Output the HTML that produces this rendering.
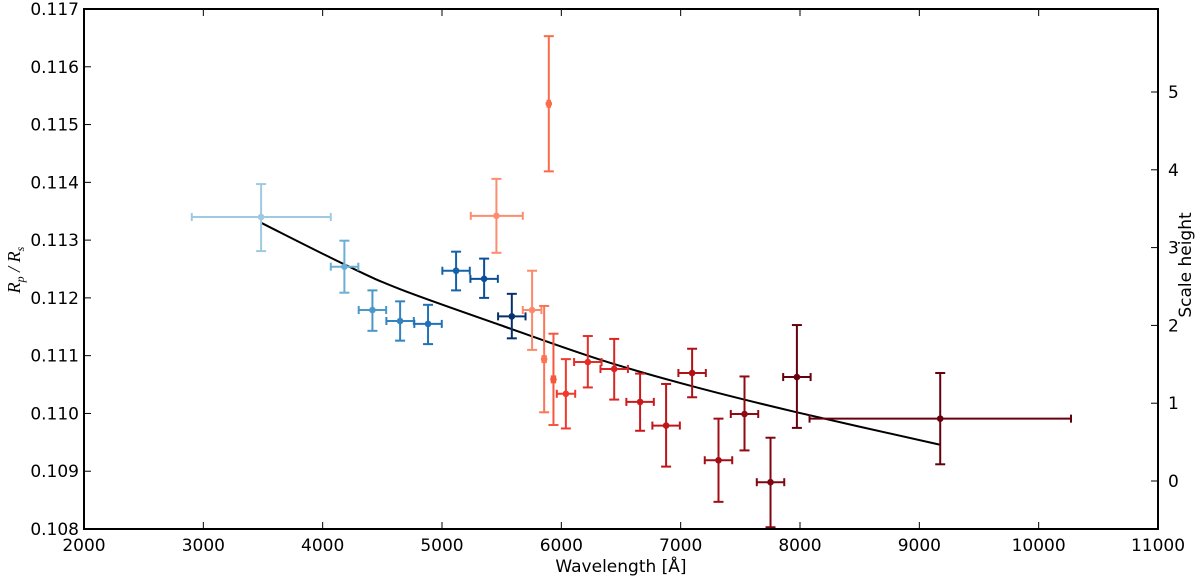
<!DOCTYPE html>
<html><head><meta charset="utf-8"><style>
html,body{margin:0;padding:0;background:#fff;}
svg{display:block;font-family:"DejaVu Sans","Liberation Sans",sans-serif;}
</style></head><body>
<svg id="chart" width="1200" height="580" viewBox="0 0 1200 580" xmlns="http://www.w3.org/2000/svg">
<g id="marks"></g>
<g id="axes"></g>
</svg>
<script>
const wavelengths = [3484,4182,4417,4649,4883,5118,5353,5585,5456,5895,5755,5856,5934,6038,6222,6443,6660,6878,7096,7317,7535,7753,7974,9175];
const radiusRatio = [0.11340,0.11254,0.11179,0.11160,0.11155,0.11247,0.11233,0.11168,0.11342,0.11536,0.11179,0.11094,0.11059,0.11034,0.11089,0.11077,0.11020,0.10979,0.11070,0.10919,0.10999,0.10881,0.11063,0.10991];
const errUp = [0.11397,0.11299,0.11213,0.11194,0.11188,0.11280,0.11268,0.11207,0.11406,0.11653,0.11247,0.11186,0.11138,0.11094,0.11134,0.11129,0.11069,0.11051,0.11112,0.10991,0.11064,0.10958,0.11153,0.11070];
const errDown = [0.11281,0.11209,0.11143,0.11126,0.11120,0.11213,0.11200,0.11130,0.11278,0.11419,0.11110,0.11002,0.10980,0.10974,0.11045,0.11024,0.10970,0.10908,0.11028,0.10847,0.10936,0.10803,0.10975,0.10912];
const binLow = [2903,4068,4302,4534,4768,5003,5238,5470,5241,5885,5677,5842,5920,5962,6107,6328,6545,6763,6981,7202,7420,7638,7859,8080];
const binHigh = [4068,4299,4532,4764,4998,5233,5468,5700,5677,5905,5833,5870,5948,6116,6337,6558,6775,6993,7211,7432,7650,7868,8089,10271];
const colors = ["#9ecae1","#6baed6","#4a98c9","#3383be","#2171b5","#1562a9","#0b4f99","#08306b","#fc8d6e","#fb6a4a","#fc8a6a","#fb7555","#f6583e","#ef3b2c","#e32f27","#d92523","#cb181d","#bd151a","#af1117","#a10e15","#8f0a12","#7f0710","#67000d","#67000d"];
const modelWave = [3484,4182,4649,5487,6325,7081,7974,9170];
const modelRatio = [0.11330,0.11258,0.11215,0.11153,0.11093,0.11048,0.11002,0.10946];
const xTicks = [2000,3000,4000,5000,6000,7000,8000,9000,10000,11000];
const yTicks = [0.108,0.109,0.110,0.111,0.112,0.113,0.114,0.115,0.116,0.117];
const yTickLabels = ["0.108","0.109","0.110","0.111","0.112","0.113","0.114","0.115","0.116","0.117"];
const scaleTicks = [0,1,2,3,4,5];

const L=84,R=1158,T=9,B=529;
const X0=2000,X1=11000,Y0=0.108,Y1=0.117;
function sx(v){return L+(v-X0)/(X1-X0)*(R-L);}
function sy(v){return B-(v-Y0)/(Y1-Y0)*(B-T);}
const SH0=481,SHU=77.8;
function sh(v){return SH0-v*SHU;}
const NS="http://www.w3.org/2000/svg";
function mk(tag,attrs,parent){const e=document.createElementNS(NS,tag);for(const k in attrs)e.setAttribute(k,attrs[k]);parent.appendChild(e);return e;}
const marks=document.getElementById('marks');
const axes=document.getElementById('axes');

// model curve (smooth Catmull-Rom through model points)
const pts=modelWave.map((w,i)=>[sx(w),sy(modelRatio[i])]);
let d='M'+pts[0][0].toFixed(1)+' '+pts[0][1].toFixed(1);
for(let i=0;i<pts.length-1;i++){
  const p0=pts[Math.max(0,i-1)],p1=pts[i],p2=pts[i+1],p3=pts[Math.min(pts.length-1,i+2)];
  const c1=[p1[0]+(p2[0]-p0[0])/6,p1[1]+(p2[1]-p0[1])/6];
  const c2=[p2[0]-(p3[0]-p1[0])/6,p2[1]-(p3[1]-p1[1])/6];
  d+=' C'+c1[0].toFixed(1)+' '+c1[1].toFixed(1)+' '+c2[0].toFixed(1)+' '+c2[1].toFixed(1)+' '+p2[0].toFixed(1)+' '+p2[1].toFixed(1);
}
const curve=mk('path',{d:d,fill:'none',stroke:'#000','stroke-width':2},marks);



// data points
wavelengths.forEach((w,i)=>{
  const g=mk('g',{stroke:colors[i],'stroke-width':2,fill:colors[i]},marks);
  
  
  const cx=sx(w),cy=sy(radiusRatio[i]);
  const yt=sy(errUp[i]),yb=sy(errDown[i]);
  const xl=sx(binLow[i]),xr=sx(binHigh[i]);
  mk('line',{x1:cx,y1:yt,x2:cx,y2:yb},g);
  mk('line',{x1:cx-5,y1:yt,x2:cx+5,y2:yt},g);
  mk('line',{x1:cx-5,y1:yb,x2:cx+5,y2:yb},g);
  mk('line',{x1:xl,y1:cy,x2:xr,y2:cy},g);
  mk('line',{x1:xl,y1:cy-4,x2:xl,y2:cy+4},g);
  mk('line',{x1:xr,y1:cy-4,x2:xr,y2:cy+4},g);
  mk('circle',{cx:cx,cy:cy,r:3.3,stroke:'none'},g);
});

// frame
const fr=mk('rect',{x:L,y:T,width:R-L,height:B-T,fill:'none',stroke:'#000','stroke-width':2},axes);



xTicks.forEach(v=>{
  const x=sx(v);
  mk('line',{x1:x,y1:B,x2:x,y2:B-7,stroke:'#000','stroke-width':1},axes);
  mk('line',{x1:x,y1:T,x2:x,y2:T+7,stroke:'#000','stroke-width':1},axes);
  const t=mk('text',{x:x,y:B+22,'text-anchor':'middle','font-size':17,fill:'#000'},axes);
  t.textContent=v;
  
  
});
yTicks.forEach((v,i)=>{
  const y=sy(v);
  mk('line',{x1:L,y1:y,x2:L+7,y2:y,stroke:'#000','stroke-width':1},axes);
  const t=mk('text',{x:L-5,y:y+6,'text-anchor':'end','font-size':17,fill:'#000'},axes);
  t.textContent=yTickLabels[i];
  
  
});
scaleTicks.forEach(v=>{
  const y=sh(v);
  mk('line',{x1:R,y1:y,x2:R-7,y2:y,stroke:'#000','stroke-width':1},axes);
  const t=mk('text',{x:R+10,y:y+6,'text-anchor':'start','font-size':17,fill:'#000'},axes);
  t.textContent=v;
  
  
});
</script>
<script>
(function(){
const svg=document.getElementById('chart');
const NS="http://www.w3.org/2000/svg";
const xl=document.createElementNS(NS,'text');
xl.setAttribute('x',621);xl.setAttribute('y',572);xl.setAttribute('text-anchor','middle');xl.setAttribute('font-size',17);
xl.textContent='Wavelength [Å]';


svg.appendChild(xl);
const yl=document.createElementNS(NS,'text');
yl.setAttribute('transform','translate(20,270) rotate(-90)');yl.setAttribute('text-anchor','middle');
yl.setAttribute('font-size',18);yl.setAttribute('font-family','Liberation Serif, serif');yl.setAttribute('font-style','italic');
yl.innerHTML='R<tspan font-size="12" dy="4">p</tspan><tspan dy="-4"> / R</tspan><tspan font-size="12" dy="4">s</tspan>';


svg.appendChild(yl);
const rl=document.createElementNS(NS,'text');
rl.setAttribute('transform','translate(1191,265) rotate(-90)');rl.setAttribute('text-anchor','middle');rl.setAttribute('font-size',17);
rl.textContent='Scale height';


svg.appendChild(rl);
})();
</script>
</body></html>
